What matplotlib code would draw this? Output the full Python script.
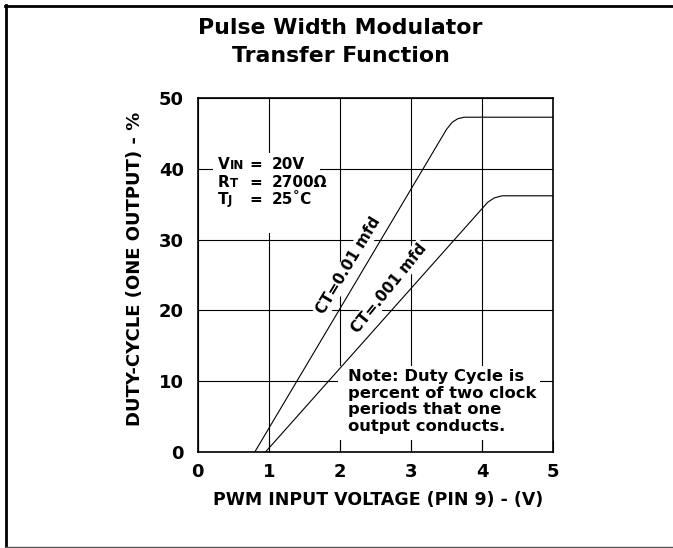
import matplotlib
matplotlib.use('Agg')
import matplotlib.pyplot as plt
from matplotlib.lines import Line2D
from matplotlib.patches import Rectangle

plt.rcParams['font.family'] = ['DejaVu Sans']
plt.rcParams['font.weight'] = 'bold'

# curve data
ct_01_x = [0.80, 3.50, 3.58, 3.66, 3.75, 5.0]
ct_01_y = [0.0, 45.6, 46.6, 47.1, 47.3, 47.3]
ct_001_x = [0.95, 4.00, 4.08, 4.17, 4.28, 5.0]
ct_001_y = [0.0, 34.4, 35.3, 35.9, 36.2, 36.2]

x_ticks = [0, 1, 2, 3, 4, 5]
y_ticks = [0, 10, 20, 30, 40, 50]

fig = plt.figure(figsize=(6.73, 5.48), dpi=100)
ax = fig.add_axes([0.294, 0.175, 0.528, 0.646])

ax.set_xlim(0, 5)
ax.set_ylim(0, 50)
ax.set_xticks(x_ticks)
ax.set_yticks(y_ticks)
ax.set_xticklabels([str(t) for t in x_ticks], fontsize=13, fontweight='bold')
ax.set_yticklabels([str(t) for t in y_ticks], fontsize=13, fontweight='bold')
ax.tick_params(axis='x', direction='in', length=9, width=0.8, pad=8)
ax.tick_params(axis='y', length=0, pad=10)
ax.grid(True, color='black', linewidth=0.8)
ax.set_axisbelow(True)
for s in ax.spines.values():
    s.set_linewidth(1.2)

ax.plot(ct_01_x, ct_01_y, color='black', linewidth=0.8, zorder=4)
ax.plot(ct_001_x, ct_001_y, color='black', linewidth=0.8, zorder=4)

# white box behind the conditions block
ax.add_patch(Rectangle((0.21, 31.0), 1.51, 11.2, facecolor='white', edgecolor='none', zorder=2))
rows = [('V', 'IN', '20V', 40.0, 0.165),
        ('R', 'T', '2700Ω', 37.4, 0.165),
        ('T', 'J', '25˚C', 35.0, 0.145)]
for big, small, val, yb, w in rows:
    ax.text(0.28, yb, big, fontsize=11, fontweight='bold', va='baseline', zorder=3)
    ax.text(0.28 + w, yb, small, fontsize=8.5, fontweight='bold', va='baseline', zorder=3)
    ax.text(0.82, yb, '=', fontsize=11, fontweight='bold', va='baseline', ha='center', zorder=3)
    ax.text(1.04, yb, val, fontsize=11, fontweight='bold', va='baseline', zorder=3)

ax.text(2.12, 26.3, 'CT=0.01 mfd', fontsize=11, fontweight='bold', rotation=59,
        ha='center', va='center', zorder=3,
        bbox=dict(facecolor='white', edgecolor='none', pad=1))
ax.text(2.69, 23.2, 'CT=.001 mfd', fontsize=11, fontweight='bold', rotation=51,
        ha='center', va='center', zorder=3,
        bbox=dict(facecolor='white', edgecolor='none', pad=1))

ax.add_patch(Rectangle((1.97, 1.7), 2.85, 10.4, facecolor='white', edgecolor='none', zorder=2))
ax.text(2.11, 11.7, 'Note: Duty Cycle is\npercent of two clock\nperiods that one\noutput conducts.',
        fontsize=11.8, fontweight='bold', va='top', ha='left', linespacing=1.13, zorder=3)

fig.text(0.506, 0.938, 'Pulse Width Modulator', fontsize=15.8, fontweight='bold',
         ha='center', va='baseline')
fig.text(0.507, 0.887, 'Transfer Function', fontsize=15.8, fontweight='bold',
         ha='center', va='baseline')
fig.text(0.200, 0.509, 'DUTY-CYCLE (ONE OUTPUT) - %', fontsize=13, fontweight='bold',
         rotation=90, ha='center', va='center')
fig.text(0.562, 0.088, 'PWM INPUT VOLTAGE (PIN 9) - (V)', fontsize=12.5, fontweight='bold',
         ha='center', va='center')

# outer frame (top, left, bottom)
fig.add_artist(Line2D([5 / 673, 1], [1 - 6 / 548, 1 - 6 / 548], color='black', linewidth=2,
                      transform=fig.transFigure))
fig.add_artist(Line2D([6 / 673, 6 / 673], [0, 1 - 5 / 548], color='black', linewidth=2,
                      transform=fig.transFigure))
fig.add_artist(Line2D([5 / 673, 1], [1.2 / 548, 1.2 / 548], color='#555555', linewidth=1,
                      transform=fig.transFigure))

fig.savefig('out.png', dpi=100)
